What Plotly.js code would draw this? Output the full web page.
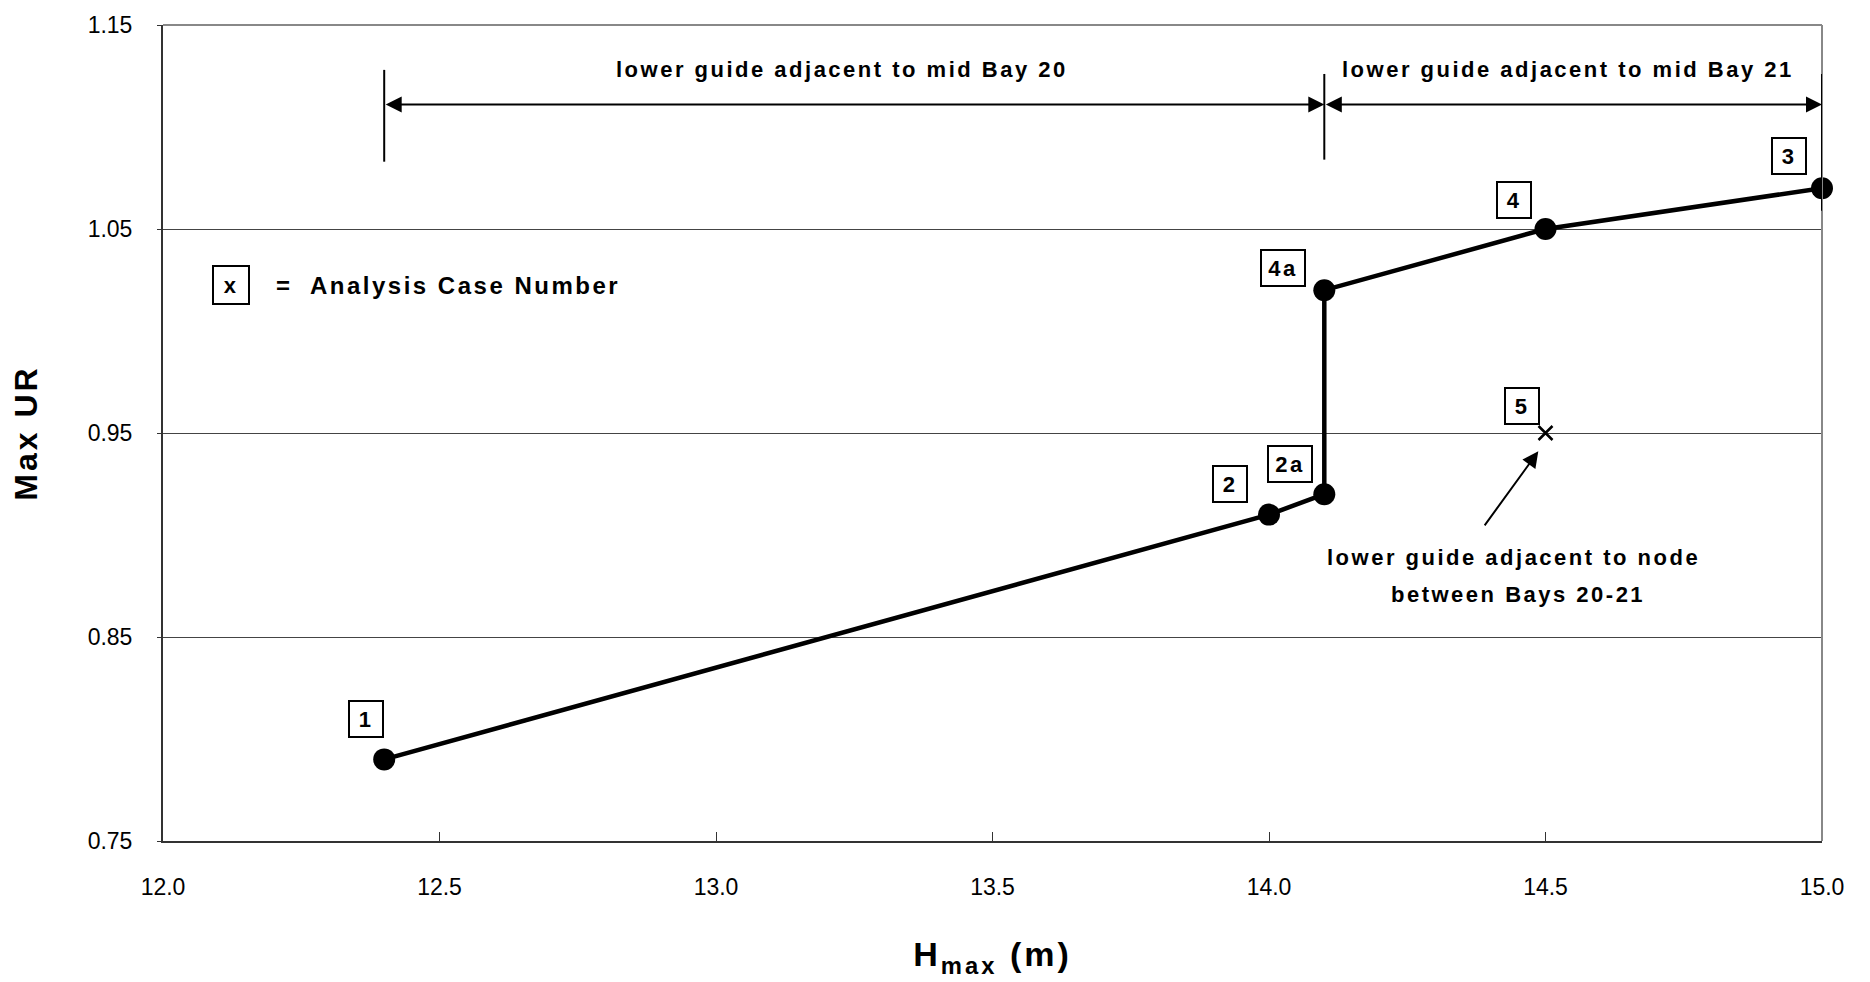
<!DOCTYPE html>
<html>
<head>
<meta charset="utf-8">
<script src="https://cdn.plot.ly/plotly-3.0.1.min.js"></script>
<style>
  html, body { margin: 0; padding: 0; background: #fff; }
  #chart { width: 1870px; height: 982px; }
  .annotation-text { letter-spacing: 2.5px; }
  .xtitle, .ytitle { letter-spacing: 3px; }
</style>
</head>
<body>
<div id="chart"></div>
<script>
// ---- data ----
const hmax = [12.4, 14.0, 14.1, 14.1, 14.5, 15.0];
const maxUR = [0.79, 0.91, 0.92, 1.02, 1.05, 1.07];
const case5H = [14.5];
const case5UR = [0.95];

const caseLabels = ['1', '2', '2a', '4a', '4', '3', '5'];
const caseLabelX = [12.367, 13.93, 14.038, 14.025, 14.443, 14.94, 14.458];
const caseLabelY = [0.81, 0.925, 0.935, 1.031, 1.064, 1.086, 0.963];

const spanStart = [12.4, 14.1];
const spanEnd = [14.1, 15.0];
const spanLineY = 1.111;
const spanTexts = ['lower guide adjacent to mid Bay 20', 'lower guide adjacent to mid Bay 21'];
const spanTextX = [13.228, 14.54];
const spanTextY = 1.128;
const dimX = [12.4, 14.1, 15.0];
const dimYlo = [1.083, 1.084, 1.059];
const dimYhi = [1.128, 1.126, 1.126];

const noteLines = ['lower guide adjacent to node', 'between Bays 20-21'];
const noteX = [14.443, 14.45];
const noteY = [0.889, 0.871];
const noteArrowTail = [14.388, 0.904];
const noteArrowHead = [14.487, 0.941];

const keyBoxText = 'x';
const keyBoxPos = [12.123, 1.0225];
const keyText = '=  Analysis Case Number';
const keyTextPos = [12.2, 1.0225];

const xTicks = [12.0, 12.5, 13.0, 13.5, 14.0, 14.5, 15.0];
const yTicks = [0.75, 0.85, 0.95, 1.05, 1.15];

// ---- build ----
const FONT = 'Liberation Sans, Arial, Helvetica, sans-serif';

const traces = [
  {
    x: hmax, y: maxUR, type: 'scatter', mode: 'lines+markers',
    line: { color: '#000', width: 4.5 },
    marker: { color: '#000', size: 22 },
    cliponaxis: false, hoverinfo: 'x+y', showlegend: false
  },
  {
    x: case5H, y: case5UR, type: 'scatter', mode: 'markers',
    marker: { symbol: 'x-thin-open', size: 14, color: '#000', line: { color: '#000', width: 2.5 } },
    cliponaxis: false, showlegend: false
  }
];

const annotations = [];
caseLabels.forEach((t, i) => {
  annotations.push({
    x: caseLabelX[i], y: caseLabelY[i], xref: 'x', yref: 'y',
    text: '<b>' + t + '</b>', showarrow: false,
    font: { family: FONT, size: 22, color: '#000' },
    width: t.length > 1 ? 34 : 24, height: 26,
    bordercolor: '#000', borderwidth: 2, borderpad: 4, bgcolor: '#fff'
  });
});
spanStart.forEach((s, i) => {
  annotations.push({
    x: spanEnd[i], y: spanLineY, ax: s, ay: spanLineY,
    xref: 'x', yref: 'y', axref: 'x', ayref: 'y',
    text: '', showarrow: true, arrowside: 'end+start',
    arrowhead: 2, arrowsize: 1.6, arrowwidth: 2, arrowcolor: '#000'
  });
  annotations.push({
    x: spanTextX[i], y: spanTextY, xref: 'x', yref: 'y',
    text: '<b>' + spanTexts[i] + '</b>', showarrow: false,
    font: { family: FONT, size: 22, color: '#000' }
  });
});
noteLines.forEach((t, i) => {
  annotations.push({
    x: noteX[i], y: noteY[i], xref: 'x', yref: 'y',
    text: '<b>' + t + '</b>', showarrow: false,
    font: { family: FONT, size: 22, color: '#000' }
  });
});
annotations.push({
  x: noteArrowHead[0], y: noteArrowHead[1], ax: noteArrowTail[0], ay: noteArrowTail[1],
  xref: 'x', yref: 'y', axref: 'x', ayref: 'y',
  text: '', showarrow: true, arrowhead: 2, arrowsize: 1.6, arrowwidth: 2, arrowcolor: '#000'
});
annotations.push({
  x: keyBoxPos[0], y: keyBoxPos[1], xref: 'x', yref: 'y',
  text: '<b>' + keyBoxText + '</b>', showarrow: false,
  font: { family: FONT, size: 22, color: '#000' },
  width: 26, height: 28, bordercolor: '#000', borderwidth: 2, borderpad: 4
});
annotations.push({
  x: keyTextPos[0], y: keyTextPos[1], xref: 'x', yref: 'y', xanchor: 'left',
  text: '<b>' + keyText + '</b>', showarrow: false,
  font: { family: FONT, size: 24, color: '#000' }
});

const shapes = [
  { type: 'line', xref: 'paper', yref: 'paper', x0: 0, x1: 1, y0: 1, y1: 1, line: { color: '#888', width: 2 } },
  { type: 'line', xref: 'paper', yref: 'paper', x0: 1, x1: 1, y0: 0, y1: 1, line: { color: '#888', width: 2 } }
];
dimX.forEach((x, i) => {
  shapes.push({ type: 'line', xref: 'x', yref: 'y', x0: x, x1: x, y0: dimYlo[i], y1: dimYhi[i],
    line: { color: '#000', width: 2 } });
});

const layout = {
  width: 1870, height: 982,
  paper_bgcolor: '#fff', plot_bgcolor: '#fff',
  margin: { l: 163, r: 48, t: 25, b: 141, autoexpand: false },
  showlegend: false,
  font: { family: FONT, color: '#000' },
  xaxis: {
    range: [12, 15], tickvals: xTicks, ticktext: xTicks.map(v => v.toFixed(1)),
    ticks: 'inside', ticklen: 9, tickwidth: 1, tickcolor: '#333',
    showline: true, linecolor: '#333', linewidth: 2,
    showgrid: false, zeroline: false,
    tickfont: { family: FONT, size: 23, color: '#000' },
    ticklabelstandoff: 24,
    title: { text: '<b>H<sub>max</sub> (m)</b>', font: { family: FONT, size: 34, color: '#000' }, standoff: 44 }
  },
  yaxis: {
    range: [0.75, 1.15], tickvals: yTicks, ticktext: yTicks.map(v => v.toFixed(2)),
    ticks: 'outside', ticklen: 4, tickcolor: '#333',
    showline: true, linecolor: '#333', linewidth: 2,
    showgrid: true, gridcolor: '#444', gridwidth: 1, zeroline: false,
    tickfont: { family: FONT, size: 23, color: '#000' },
    ticklabelstandoff: 20,
    title: { text: '<b>Max UR</b>', font: { family: FONT, size: 32, color: '#000' }, standoff: 40 }
  },
  annotations: annotations,
  shapes: shapes
};

Plotly.newPlot('chart', traces, layout, { staticPlot: true });
</script>
</body>
</html>
